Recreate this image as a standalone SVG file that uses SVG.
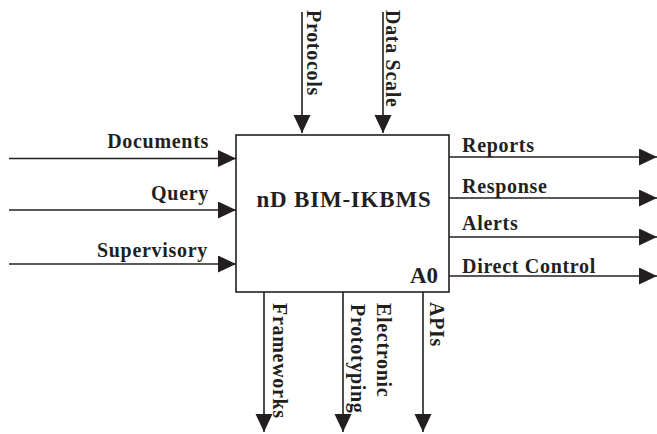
<svg xmlns="http://www.w3.org/2000/svg" width="657" height="434" viewBox="0 0 657 434">
<style>
.t{font-family:"Liberation Serif","Times New Roman",serif;font-weight:bold;font-size:20px;fill:#231f20;letter-spacing:0.7px}
.big{font-size:23px;letter-spacing:0.8px}
.ln{stroke:#231f20;stroke-width:1.6;fill:none}
</style>
<defs>
<marker id="ah" markerUnits="userSpaceOnUse" markerWidth="18" markerHeight="18" refX="18" refY="8.5" orient="auto">
<path d="M0,0 L18,8.5 L0,17 z" fill="#231f20"/>
</marker>
</defs>
<g id="connectors">
<line class="ln" x1="9" y1="158.5" x2="236" y2="158.5" marker-end="url(#ah)"/>
<line class="ln" x1="9" y1="210" x2="236" y2="210" marker-end="url(#ah)"/>
<line class="ln" x1="9" y1="264" x2="236" y2="264" marker-end="url(#ah)"/>
<line class="ln" x1="449" y1="157" x2="657" y2="157" marker-end="url(#ah)"/>
<line class="ln" x1="449" y1="198" x2="657" y2="198" marker-end="url(#ah)"/>
<line class="ln" x1="449" y1="237" x2="657" y2="237" marker-end="url(#ah)"/>
<line class="ln" x1="449" y1="276" x2="657" y2="276" marker-end="url(#ah)"/>
<line class="ln" x1="302" y1="12" x2="302" y2="133" marker-end="url(#ah)"/>
<line class="ln" x1="383" y1="12" x2="383" y2="133" marker-end="url(#ah)"/>
<line class="ln" x1="264" y1="292" x2="264" y2="432" marker-end="url(#ah)"/>
<line class="ln" x1="343" y1="292" x2="343" y2="432" marker-end="url(#ah)"/>
<line class="ln" x1="423" y1="292" x2="423" y2="432" marker-end="url(#ah)"/>
<text class="t" x="209" y="148" text-anchor="end">Documents</text>
<text class="t" x="209" y="200" text-anchor="end">Query</text>
<text class="t" x="208" y="257" text-anchor="end">Supervisory</text>
<text class="t" x="462" y="152">Reports</text>
<text class="t" x="462" y="192.5">Response</text>
<text class="t" x="462" y="230">Alerts</text>
<text class="t" x="462" y="272.5">Direct Control</text>
<text class="t" transform="translate(307,10) rotate(90)">Protocols</text>
<text class="t" transform="translate(386,10) rotate(90)">Data Scale</text>
<text class="t" transform="translate(273,303) rotate(90)">Frameworks</text>
<text class="t" transform="translate(377,303) rotate(90)">Electronic</text>
<text class="t" transform="translate(351,304) rotate(90)">Prototyping</text>
<text class="t" transform="translate(430,302) rotate(90)">APIs</text>
</g>
<g id="A0">
<rect class="ln" x="236" y="135" width="213" height="157" fill="#fff"/>
<text class="t big" x="344" y="207" text-anchor="middle">nD BIM-IKBMS</text>
<text class="t big" x="438" y="283" text-anchor="end" style="letter-spacing:0">A0</text>
</g>
</svg>
